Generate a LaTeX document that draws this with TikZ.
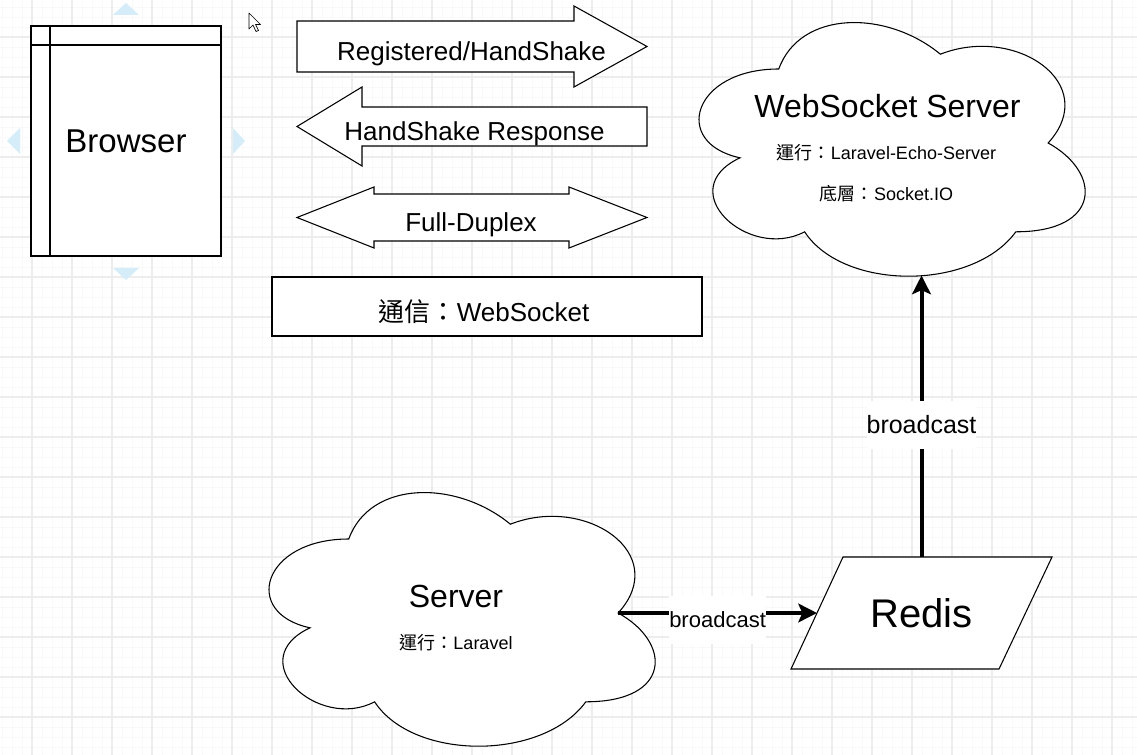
\documentclass[tikz,border=0pt]{standalone}
\usepackage{fontspec}
\setmainfont{Liberation Sans}
\newfontfamily\cjk{Noto Sans CJK TC}
\usepackage{tikz}
\usetikzlibrary{arrows.meta,positioning}
\usepackage{xcolor}
\definecolor{hintblue}{RGB}{212,237,249}
\definecolor{gridmajor}{RGB}{237,237,237}
\definecolor{gridminor}{RGB}{249,249,249}

\begin{document}
\begin{tikzpicture}[x=0.75pt,y=-0.75pt,
	shapeline/.style={draw,line width=0.8pt,fill=white},
	flow/.style={line width=3pt,-{Stealth[length=14pt,width=14pt,inset=3pt]}},
	lab/.style={fill=white,inner xsep=0pt,minimum height=36pt},
	bigtext/.style={font=\fontsize{24}{28}\selectfont},
	arrowtext/.style={font=\fontsize{19.5}{23}\selectfont},
	smalltext/.style={font=\fontsize{13.5}{16}\selectfont}]
	\useasboundingbox (0,0) rectangle (1137,755);
	\fill[white] (0,0) rectangle (1137,755);

	% grid
	\foreach \gx in {2,12,...,1132} \draw[gridminor,line width=0.6pt] (\gx,0) -- (\gx,755);
	\foreach \gy in {7,17,...,747} \draw[gridminor,line width=0.6pt] (0,\gy) -- (1137,\gy);
	\foreach \gx in {32,72,...,1112} \draw[gridmajor,line width=0.8pt] (\gx,0) -- (\gx,755);
	\foreach \gy in {37,77,...,717} \draw[gridmajor,line width=0.8pt] (0,\gy) -- (1137,\gy);

	% selection hints and cursor
	\begin{scope}[hintblue]
		\fill (113,15) -- (126,3) -- (139,15) -- cycle;
		\fill (113,268) -- (126,280) -- (139,268) -- cycle;
		\fill (20,128) -- (7,141) -- (20,154) -- cycle;
		\fill (233,128) -- (245,141) -- (233,154) -- cycle;
	\end{scope}
	\draw[fill=white,line width=0.5pt,line join=round] (249,13) -- (249,29) -- (253,25) -- (256,31.5) -- (258.5,30.5) -- (255.5,24.5) -- (260.5,24.5) -- cycle;

	% browser
	\node[draw,line width=1.5pt,fill=white,minimum width=142.5pt,minimum height=172.5pt,font=\fontsize{24.75}{28}\selectfont] (Browser) at (126,141) {\raisebox{-2pt}{Browser}};
	\draw[line width=1.5pt] ([xshift=15pt]Browser.north west) -- ([xshift=15pt]Browser.south west);
	\draw[line width=1.5pt] ([yshift=-15pt]Browser.north west) -- ([yshift=-15pt]Browser.north east);

	% handshake arrows
	\draw[shapeline] (297,21) -- (574,21) -- (574,6) -- (647,46.5) -- (574,87) -- (574,72) -- (297,72) -- cycle;
	\node[arrowtext] (Register) at (471.5,54) {Registered/HandShake};
	\draw[shapeline] (647,107) -- (362,107) -- (362,87) -- (297,126.5) -- (362,166) -- (362,146) -- (647,146) -- cycle;
	\node[arrowtext] (Response) at (474.5,134) {HandShake Response};
	\draw[shapeline] (297,217.5) -- (374,187) -- (374,194) -- (569,194) -- (569,187) -- (647,217.5) -- (569,248) -- (569,241) -- (374,241) -- (374,248) -- cycle;
	\node[arrowtext] (Duplex) at (471,225) {Full-Duplex};

	\node[draw,line width=1.5pt,fill=white,minimum width=322.5pt,minimum height=44.5pt] (Protocol) at (486.7,306.3) {};
	\node[arrowtext] (ProtocolText) at (484,312) {{\cjk 通信：}WebSocket};

	% websocket server cloud
	\begin{scope}[shift={(671,-5)}]
		\draw[shapeline] (107.75,74) .. controls (21.55,74) and (0,148) .. (68.96,162.8)
			.. controls (0,195.36) and (77.58,266.4) .. (133.61,236.8)
			.. controls (172.4,296) and (301.7,296) .. (344.8,236.8)
			.. controls (431,236.8) and (431,177.6) .. (377.125,148)
			.. controls (431,88.8) and (344.8,29.6) .. (269.375,59.2)
			.. controls (215.5,14.8) and (129.3,14.8) .. (107.75,74) -- cycle;
		\coordinate (WSPort) at (250.5,280.5);
	\end{scope}
	\node[bigtext] (WSName) at (887.5,106) {WebSocket Server};
	\node[smalltext] (WSRun) at (886.5,152.5) {{\cjk 運行：}Laravel-Echo-Server};
	\node[smalltext] (WSBase) at (886.5,194) {{\cjk 底層：}Socket.IO};

	% laravel server cloud
	\begin{scope}[shift={(241,465)}]
		\draw[shapeline] (107.75,74) .. controls (21.55,74) and (0,148) .. (68.96,162.8)
			.. controls (0,195.36) and (77.58,266.4) .. (133.61,236.8)
			.. controls (172.4,296) and (301.7,296) .. (344.8,236.8)
			.. controls (431,236.8) and (431,177.6) .. (377.125,148)
			.. controls (431,88.8) and (344.8,29.6) .. (269.375,59.2)
			.. controls (215.5,14.8) and (129.3,14.8) .. (107.75,74) -- cycle;
		\coordinate (ServerPort) at (377.125,148);
	\end{scope}
	\node[bigtext] (ServerName) at (456,596) {Server};
	\node[smalltext] (ServerRun) at (456,643) {{\cjk 運行：}Laravel};

	% redis
	\draw[shapeline] (843,557) -- (1052,557) -- (999,669) -- (791,669) -- cycle;
	\node[inner sep=0pt,outer sep=0pt,minimum width=156.75pt,minimum height=84.4pt,font=\fontsize{30}{34}\selectfont] (Redis) at (921.5,613) {Redis};

	% broadcast connectors
	\draw[flow] (ServerPort) -- node[lab,yshift=-5pt,font=\fontsize{16.5}{19}\selectfont] (BroadcastLow) {broadcast} (Redis.west);
	\draw[flow] (Redis.north) -- node[lab,pos=0.47,font=\fontsize{18.75}{22}\selectfont] (BroadcastHigh) {broadcast} (WSPort);
\end{tikzpicture}
\end{document}
